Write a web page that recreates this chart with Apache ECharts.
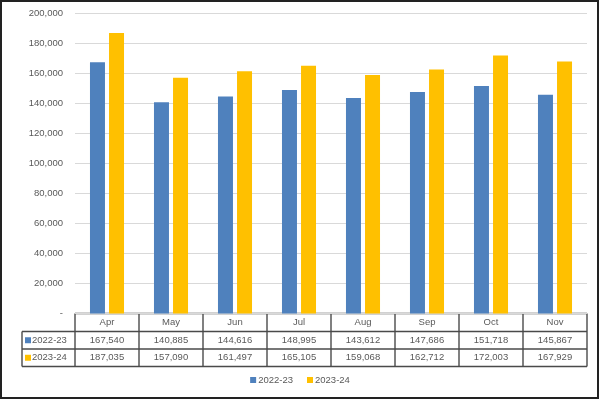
<!DOCTYPE html>
<html><head><meta charset="utf-8">
<script src="https://cdn.jsdelivr.net/npm/echarts@6/dist/echarts.min.js"></script>
<style>html,body{margin:0;padding:0;background:#fff}#c{width:600px;height:404px}</style>
</head><body><div id="c"></div>
<script>
var categories = ['Apr','May','Jun','Jul','Aug','Sep','Oct','Nov'];
var seriesNames = ['2022-23','2023-24'];
var values2022 = [167540,140885,144616,148995,143612,147686,151718,145867];
var values2023 = [187035,157090,161497,165105,159068,162712,172003,167929];
var yTicks = {min:0, max:200000, interval:20000};
var colors = ['#4f81bd','#ffc000'];

var fmt = function(v){ return v === 0 ? '-' : Number(v).toLocaleString('en-US'); };
var G = {left:75, right:13, top:13.5, bottom:90.5};
var W = 600, H = 404;
var x0 = G.left, x1 = W - G.right, yAxisPos = H - G.bottom;
var colW = (x1 - x0) / categories.length;
var rowY = [yAxisPos, yAxisPos + 18, yAxisPos + 35.5, yAxisPos + 53];
var lineStyle = {stroke:'#4a4a4a', lineWidth:1.4};
var font = '"Liberation Sans", Arial, sans-serif';
var txtColor = '#595959';

var graphics = [];
graphics.push({type:'rect', shape:{x:1, y:1, width:597, height:397}, style:{fill:'none', stroke:'#222', lineWidth:2}, silent:true});
graphics.push({type:'line', shape:{x1:x0, y1:rowY[0], x2:x1, y2:rowY[0]}, style:lineStyle});
for (var r = 1; r < rowY.length; r++) {
  graphics.push({type:'line', shape:{x1:22, y1:rowY[r], x2:x1, y2:rowY[r]}, style:lineStyle});
}
for (var i = 0; i <= categories.length; i++) {
  var xx = x0 + i * colW;
  graphics.push({type:'line', shape:{x1:xx, y1:rowY[0], x2:xx, y2:rowY[3]}, style:lineStyle});
}
graphics.push({type:'line', shape:{x1:22, y1:rowY[1], x2:22, y2:rowY[3]}, style:lineStyle});
for (var s = 0; s < seriesNames.length; s++) {
  var cy = (rowY[s+1] + rowY[s+2]) / 2;
  graphics.push({type:'rect', shape:{x:25, y:cy-3, width:6, height:6}, style:{fill:colors[s]}});
  graphics.push({type:'text', x:32, y:cy, style:{text:seriesNames[s], font:'9.5px ' + font, fill:txtColor, verticalAlign:'middle', align:'left'}});
}

var chart = echarts.init(document.getElementById('c'), null, {renderer:'canvas'});
var labelBase = {fontSize:9.5, fontFamily:font, color:txtColor, lineHeight:17, margin:0, interval:0};
chart.setOption({
  animation:false,
  color: colors,
  grid: {left:G.left, right:G.right, top:G.top, bottom:G.bottom, containLabel:false},
  legend: {
    data: seriesNames, bottom: 14, left:'center', itemWidth:6, itemHeight:6, itemGap:14,
    icon:'rect', textStyle:{fontSize:9.5, fontFamily:font, color:txtColor, padding:[0,0,0,-3]}
  },
  xAxis: [
    {type:'category', data:categories, position:'bottom', axisLine:{show:false}, axisTick:{show:false}, axisLabel:labelBase},
    {type:'category', data:values2022.map(fmt), position:'bottom', offset:18, axisLine:{show:false}, axisTick:{show:false}, axisLabel:labelBase},
    {type:'category', data:values2023.map(fmt), position:'bottom', offset:35.5, axisLine:{show:false}, axisTick:{show:false}, axisLabel:labelBase}
  ],
  yAxis: {
    type:'value', min:yTicks.min, max:yTicks.max, interval:yTicks.interval,
    axisLine:{show:false}, axisTick:{show:false},
    splitLine:{lineStyle:{color:'#d9d9d9', width:1}},
    axisLabel:{formatter:fmt, fontSize:9.5, fontFamily:font, color:txtColor, margin:12}
  },
  series: [
    {name:seriesNames[0], type:'bar', data:values2022, barWidth:15, barGap:'27%', xAxisIndex:0},
    {name:seriesNames[1], type:'bar', data:values2023, barWidth:15, xAxisIndex:0}
  ],
  graphic: graphics
});
</script></body></html>
